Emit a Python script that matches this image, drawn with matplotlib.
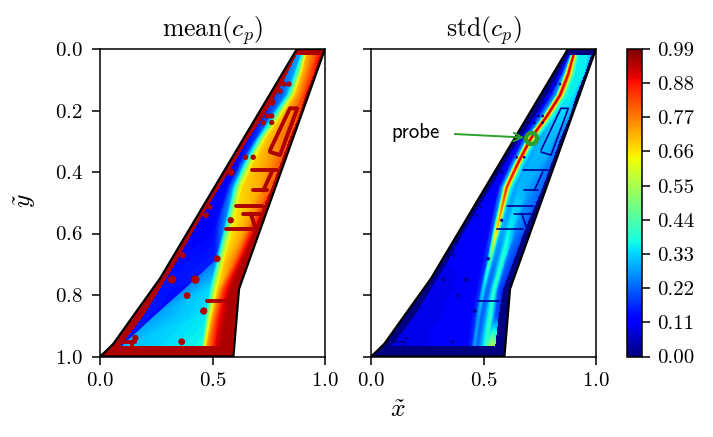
import numpy as np
import matplotlib
matplotlib.use("Agg")
import matplotlib.pyplot as plt
from matplotlib.colors import Normalize
from matplotlib.cm import ScalarMappable
from matplotlib.tri import Triangulation

plt.rcParams.update({
    "font.family": "serif", "font.serif": ["cmr10"], "mathtext.fontset": "cm",
    "axes.unicode_minus": False, "axes.formatter.use_mathtext": True,
    "axes.linewidth": 1.1, "xtick.major.width": 1.1, "ytick.major.width": 1.1,
    "xtick.major.size": 5.5, "ytick.major.size": 5.5, "font.size": 15,
    "xtick.major.pad": 6, "ytick.major.pad": 7,
})

# wing outline
outline_x = [0.875, 0.267, 0.133, 0.06, 0.03, 0.0, 0.593, 0.618, 1.0]
outline_y = [0.0, 0.746, 0.883, 0.958, 0.98, 1.0, 1.0, 0.78, 0.0]

# spanwise stations
stations = [0.022, 0.08, 0.15, 0.22, 0.29, 0.37, 0.45, 0.59, 0.69, 0.78, 0.87, 0.965]

# mean(cp): x positions of feature lines at each station and values there
mean_x = [
    [.875, .884, .888, .893, .905, .920, .960, .975],
    [.835, .850, .858, .865, .885, .900, .930, .948],
    [.785, .810, .820, .832, .850, .865, .895, .910],
    [.730, .745, .755, .765, .788, .805, .850, .880],
    [.665, .685, .695, .703, .722, .740, .800, .840],
    [.600, .615, .625, .642, .662, .685, .755, .800],
    [.535, .560, .570, .592, .612, .635, .710, .760],
    [.420, .490, .510, .548, .566, .590, .650, .680],
    [.345, .505, .510, .516, .535, .555, .600, .630],
    [.270, .378, .383, .490, .505, .525, .555, .585],
    [.195, .240, .245, .470, .485, .500, .530, .565],
    [.095, .100, .105, .455, .465, .480, .520, .550],
]
mean_v = [
    [.26, .28, .28, .30, .50, .72, .82, .88],
    [.24, .26, .27, .30, .50, .70, .80, .86],
    [.20, .22, .24, .30, .50, .68, .78, .84],
    [.16, .19, .21, .29, .50, .68, .76, .82],
    [.13, .16, .18, .28, .50, .68, .76, .80],
    [.11, .13, .15, .27, .50, .68, .74, .80],
    [.10, .12, .14, .27, .50, .68, .72, .80],
    [.10, .12, .13, .24, .48, .66, .74, .88],
    [.13, .15, .15, .24, .50, .68, .78, .93],
    [.14, .13, .26, .33, .50, .68, .85, .95],
    [.14, .13, .28, .35, .55, .72, .88, .95],
    [.15, .15, .30, .37, .60, .75, .92, .95],
]

# std(cp)
std_x = [
    [.875, .882, .889, .899, .909, .920, .940, .955, .975],
    [.835, .848, .862, .877, .892, .905, .925, .940, .948],
    [.785, .800, .825, .840, .855, .870, .885, .900, .910],
    [.730, .740, .765, .780, .795, .815, .840, .865, .880],
    [.665, .676, .696, .711, .726, .745, .770, .805, .840],
    [.600, .620, .639, .654, .669, .690, .715, .760, .800],
    [.535, .568, .588, .603, .618, .636, .660, .700, .760],
    [.420, .523, .543, .558, .573, .590, .613, .640, .680],
    [.345, .493, .516, .528, .540, .558, .583, .600, .630],
    [.270, .465, .488, .500, .512, .530, .548, .565, .585],
    [.195, .443, .466, .478, .490, .508, .530, .550, .565],
    [.095, .425, .448, .460, .472, .490, .515, .535, .550],
]
std_v = [
    [.12, .13, .30, .90, .50, .36, .36, .36, .30],
    [.12, .13, .30, .90, .48, .36, .36, .36, .30],
    [.12, .13, .30, .92, .45, .36, .36, .34, .30],
    [.11, .125, .30, .92, .42, .32, .33, .32, .27],
    [.11, .12, .30, .92, .40, .28, .30, .30, .25],
    [.105, .12, .30, .90, .38, .28, .30, .29, .23],
    [.10, .12, .30, .85, .38, .28, .30, .28, .22],
    [.10, .11, .22, .68, .30, .28, .36, .26, .20],
    [.10, .11, .18, .42, .26, .24, .40, .22, .18],
    [.09, .11, .17, .33, .22, .24, .40, .20, .16],
    [.09, .11, .17, .28, .20, .26, .40, .20, .18],
    [.09, .11, .16, .27, .20, .28, .42, .55, .50],
]

# pressure taps
tap_x = [.818, .840, .800, .763, .744, .763, .726, .763, .647, .681, .582, .489, .471,
         .581, .367, .521, .321, .424, .387, .461, .157, .363]
tap_y = [.114, .114, .137, .173, .218, .218, .240, .239, .352, .352, .401, .514, .541,
         .557, .671, .682, .750, .750, .802, .852, .940, .952]
tap_size = [5, 5, 5, 9, 5, 5, 5, 5, 5, 5, 9, 4, 6, 7, 7, 8, 12, 12, 8, 9, 7, 8]

# pressure tubing streaks
streaks = [
    ([.756, .844, .877, .800, .756], [.329, .193, .193, .345, .335]),
    ([.674, .785], [.394, .394]),
    ([.763, .726], [.400, .460]),
    ([.682, .741], [.459, .459]),
    ([.603, .718], [.511, .511]),
    ([.634, .711], [.535, .535]),
    ([.670, .690], [.535, .580]),
    ([.559, .674], [.584, .584]),
    ([.477, .570], [.821, .821]),
    ([.096, .156], [.953, .953]),
    ([.141, .141], [.953, .970]),
]

tick_vals = [0.0, 0.11, 0.22, 0.33, 0.44, 0.55, 0.66, 0.77, 0.88, 0.99]
probe_x, probe_y = 0.711, 0.289

W, H = 713, 437
fig = plt.figure(figsize=(W / 100, H / 100), dpi=100)


def axes_px(x0, x1, y0, y1):
    return fig.add_axes([x0 / W, 1 - y1 / H, (x1 - x0) / W, (y1 - y0) / H])


cmap = plt.get_cmap("jet")
norm = Normalize(0, 0.99)
levels = np.linspace(0, 0.99, 110)


def field(ax, xs, vs, bg, streak_lw, streak_color, tap_scale):
    xs = np.array(xs)
    vs = np.array(vs)
    ny, nx = xs.shape
    ys = np.repeat(np.array(stations)[:, None], nx, axis=1)
    idx = np.arange(ny * nx).reshape(ny, nx)
    tris = []
    for i in range(ny - 1):
        for j in range(nx - 1):
            tris.append([idx[i, j], idx[i, j + 1], idx[i + 1, j]])
            tris.append([idx[i, j + 1], idx[i + 1, j + 1], idx[i + 1, j]])
    tri = Triangulation(xs.ravel(), ys.ravel(), np.array(tris))
    ax.fill(outline_x, outline_y, color=cmap(norm(bg)), lw=0, zorder=1)
    ax.tricontourf(tri, vs.ravel(), levels=levels, cmap=cmap, norm=norm, zorder=2,
                   antialiased=False)
    for sx, sy in streaks:
        ax.plot(sx, sy, color=streak_color, lw=streak_lw, zorder=3,
                solid_capstyle="round")
    ax.scatter(tap_x, tap_y, s=np.array(tap_size) * tap_scale, color=streak_color,
               lw=0, zorder=3)
    ax.plot(outline_x + outline_x[:1], outline_y + outline_y[:1], color="k", lw=1.6,
            zorder=4, solid_joinstyle="round")
    ax.set_xlim(0, 1)
    ax.set_ylim(1, 0)
    ax.set_xticks([0, 0.5, 1])
    ax.set_yticks([0, 0.2, 0.4, 0.6, 0.8, 1.0])


ax1 = axes_px(100, 325, 49, 356.5)
ax2 = axes_px(371, 596, 49, 356.5)
field(ax1, mean_x, mean_v, 0.95, 2.8, cmap(norm(0.95)), 3.0)
field(ax2, std_x, std_v, 0.0, 1.2, cmap(norm(0.02)), 0.8)
ax2.set_yticklabels([])
ax1.set_title(r"$\mathrm{mean}(c_p)$", fontsize=18.5, pad=9)
ax2.set_title(r"$\mathrm{std}(c_p)$", fontsize=18.5, pad=9)

ax2.plot([probe_x], [probe_y], "o", mfc="none", mec="tab:green", mew=3, ms=8, zorder=6)
ax2.annotate("probe", xy=(probe_x, probe_y), xytext=(0.09, 0.27),
             fontfamily="cmss10", fontsize=15, va="center", zorder=7,
             arrowprops=dict(arrowstyle="->", color="tab:green", lw=1.4,
                             shrinkA=9, shrinkB=5))

fig.text(398 / W, 1 - 410 / H, r"$\tilde{x}$", fontsize=18.5, ha="center", va="center")
fig.text(25 / W, 1 - 201 / H, r"$\tilde{y}$", fontsize=18.5, ha="center", va="center",
         rotation=90)

cax = axes_px(627, 642, 49, 356.5)
cb = fig.colorbar(ScalarMappable(norm=norm, cmap=cmap), cax=cax, ticks=tick_vals)
cb.ax.set_yticklabels([f"{v:.2f}" for v in tick_vals])
cb.ax.tick_params(pad=5.5)
cb.outline.set_linewidth(1.1)

fig.savefig("out.png", dpi=100)
